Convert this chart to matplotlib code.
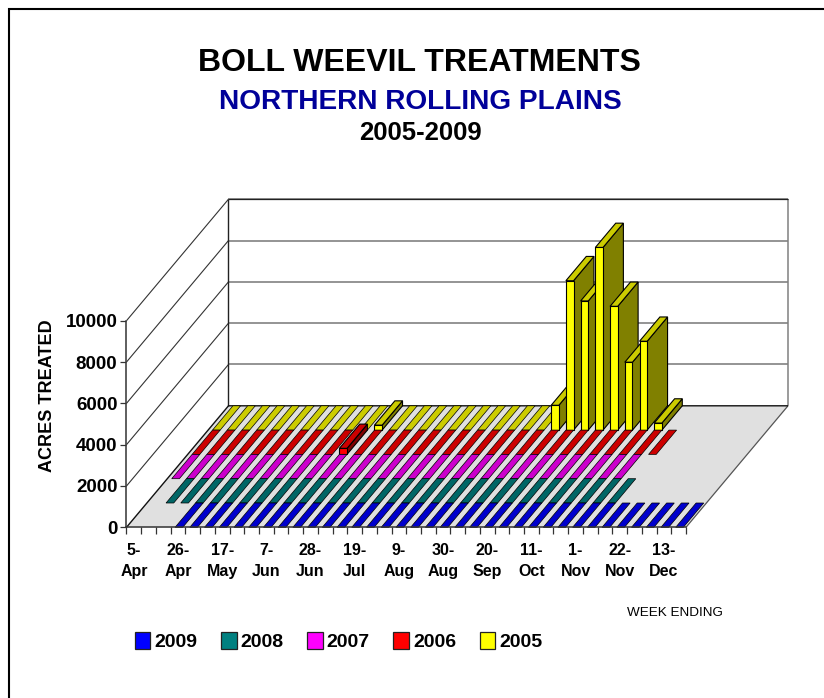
'''
Boll weevil treatments chart, drawn as an oblique 3-D column chart on plain 2-D axes.
'''

import matplotlib
matplotlib.use('Agg')
import matplotlib.pyplot as plt
from matplotlib.lines import Line2D
from matplotlib.patches import Patch, Polygon

W, H = 824, 698

week_labels = ['5-\nApr', '', '', '26-\nApr', '', '', '17-\nMay', '', '', '7-\nJun',
               '', '', '28-\nJun', '', '', '19-\nJul', '', '', '9-\nAug', '',
               '', '30-\nAug', '', '', '20-\nSep', '', '', '11-\nOct', '', '',
               '1-\nNov', '', '', '22-\nNov', '', '', '13-\nDec', '']
years = ['2005', '2006', '2007', '2008', '2009']  # back row first

acres_2009 = [None, None, None, 0, 0, 0, 0, 0, 0, 0,
              0, 0, 0, 0, 0, 0, 0, 0, 0, 0,
              0, 0, 0, 0, 0, 0, 0, 0, 0, 0,
              0, 0, 0, 0, 0, 0, 0, 0]
acres_2008 = [None, 0, 0, 0, 0, 0, 0, 0, 0, 0,
              0, 0, 0, 0, 0, 0, 0, 0, 0, 0,
              0, 0, 0, 0, 0, 0, 0, 0, 0, 0,
              0, 0, None, None, None, None, None, None]
acres_2007 = [0, 0, 0, 0, 0, 0, 0, 0, 0, 0,
              0, 0, 0, 0, 0, 0, 0, 0, 0, 0,
              0, 0, 0, 0, 0, 0, 0, 0, 0, 0,
              0, None, None, None, None, None, None, None]
acres_2006 = [0, 0, 0, 0, 0, 0, 0, 0, 0, 0,
              290, 0, 0, 0, 0, 0, 0, 0, 0, 0,
              0, 0, 0, 0, 0, 0, 0, 0, 0, 0,
              0, 0, None, None, None, None, None, None]
acres_2005 = [0, 0, 0, 0, 0, 0, 0, 0, 0, 0,
              0, 240, 0, 0, 0, 0, 0, 0, 0, 0,
              0, 0, 0, 1200, 7230, 6250, 8840, 5990, 3285, 4300,
              340, None, None, None, None, None, None, None]

# front, top, side colours
colors = {'2009': ('#0000ff', '#0000cc', '#000080'),
          '2008': ('#008080', '#006666', '#004040'),
          '2007': ('#ff00ff', '#cc00cc', '#800080'),
          '2006': ('#ff0000', '#cc0000', '#800000'),
          '2005': ('#ffff00', '#cccc00', '#808000')}
series = {'2005': acres_2005, '2006': acres_2006, '2007': acres_2007,
          '2008': acres_2008, '2009': acres_2009}

plt.rcParams['font.family'] = ['Liberation Sans', 'DejaVu Sans']

n_weeks = len(week_labels)
n_rows = len(years)
left_px, right_px, base_px, top_px = 126.5, 686.0, 527.3, 320.7

fig = plt.figure(figsize=(W / 100, H / 100), dpi=100)
ax = fig.add_axes([left_px / W, (H - base_px) / H,
                   (right_px - left_px) / W, (base_px - top_px) / H])
ax.set_xlim(0, n_weeks)
ax.set_ylim(0, 10000)
ax.patch.set_visible(False)

# depth of one row in data units
week_px = (right_px - left_px) / n_weeks
value_px = (base_px - top_px) / 10000.0
row_dx = 102.0 / n_rows / week_px
row_dy = 121.5 / n_rows / value_px


def proj(week, row, value):
    ''' data position -> oblique position, row counted from the front plane '''
    return (week + row * row_dx, value + row * row_dy)


def face(pts, color, z, ec='black', lw=0.8):
    ax.add_patch(Polygon([proj(*p) for p in pts], closed=True, fc=color, ec=ec,
                         lw=lw, zorder=z, clip_on=False, joinstyle='miter'))


def line(pts, color, lw, z=2):
    x, y = zip(*[proj(*p) for p in pts])
    ax.plot(x, y, color=color, lw=lw, zorder=z, clip_on=False,
            solid_capstyle='butt')


# floor
face([(0, 0, 0), (n_weeks, 0, 0), (n_weeks, n_rows, 0), (0, n_rows, 0)],
     '#e0e0e0', 1, ec='none')
line([(n_weeks, 0, 0), (n_weeks, n_rows, 0)], '#555555', 0.9)
line([(0, 0, 0), (0, n_rows, 0), (n_weeks, n_rows, 0)], '#111111', 1.0, 3)

# walls
for v in range(2000, 10001, 2000):
    line([(0, 0, v), (0, n_rows, v)], '#333333', 0.8)
    line([(0, n_rows, v), (n_weeks, n_rows, v)], '#777777', 1.1)
line([(0, n_rows, 0), (0, n_rows, 10000)], '#222222', 1.0)
line([(n_weeks, n_rows, 0), (n_weeks, n_rows, 10000)], '#808080', 1.1)
line([(0, n_rows, 10000), (n_weeks, n_rows, 10000)], '#222222', 0.9)

# columns, back row first and left to right
bar_off, bar_w = 0.3, 0.52
z = 4
for i, year in enumerate(years):
    row = n_rows - 1 - i
    front, top, side = colors[year]
    for week, val in enumerate(series[year]):
        if val is None:
            continue
        x0, x1 = week + bar_off, week + bar_off + bar_w
        if val > 0:
            face([(x1, row, 0), (x1, row + 1, 0), (x1, row + 1, val), (x1, row, val)], side, z)
            face([(x0, row, val), (x1, row, val), (x1, row + 1, val), (x0, row + 1, val)], top, z)
            face([(x0, row, 0), (x1, row, 0), (x1, row, val), (x0, row, val)], front, z)
        else:
            # nothing treated, only a flat strip on the floor
            face([(x0, row, 0), (x1, row, 0), (x1, row + 1, 0), (x0, row + 1, 0)], top, z, lw=0.5)
        z += 1

# axes
for s in ['top', 'right']:
    ax.spines[s].set_visible(False)
for s in ['left', 'bottom']:
    ax.spines[s].set_linewidth(1.1)
    ax.spines[s].set_color('#333333')
    ax.spines[s].set_zorder(z + 1)
ax.set_yticks(range(0, 10001, 2000))
ax.tick_params(axis='y', labelsize=13.5, length=4, width=0.9, pad=2.5, color='#333333')
for t in ax.get_yticklabels():
    t.set_fontweight('bold')
ax.set_xticks(range(0, n_weeks + 1), minor=True)
ax.tick_params(axis='x', which='minor', length=5, width=0.9, color='#333333')
ax.set_xticks([w + 0.5 for w in range(n_weeks)])
ax.set_xticklabels(week_labels, fontsize=11.5, fontweight='bold', linespacing=1.5)
ax.tick_params(axis='x', which='major', length=0, pad=11)

# titles
fig.text(419 / W, 1 - 70.7 / H, 'BOLL WEEVIL TREATMENTS', fontsize=23, fontweight='bold',
         ha='center', va='baseline')
fig.text(420 / W, 1 - 109 / H, 'NORTHERN ROLLING PLAINS', fontsize=20.2, fontweight='bold',
         color='#000099', ha='center', va='baseline')
fig.text(420 / W, 1 - 140 / H, '2005-2009', fontsize=18.5, fontweight='bold',
         ha='center', va='baseline')
fig.text(48 / W, 1 - 396 / H, 'ACRES TREATED', fontsize=13, fontweight='bold',
         rotation=90, ha='center', va='center')
fig.text(627 / W, 1 - 616 / H, 'WEEK ENDING', fontsize=9.7, ha='left', va='baseline')

# legend
handles = [Patch(fc=colors[y][0], ec='#222222', lw=0.9) for y in reversed(years)]
fig.legend(handles, list(reversed(years)), ncol=5, frameon=False, loc='center left',
           bbox_to_anchor=(134.5 / W, 1 - 641.5 / H), borderpad=0, borderaxespad=0,
           prop={'size': 14, 'weight': 'bold'}, handlelength=0.82, handleheight=0.95,
           handletextpad=0.2, columnspacing=1.2)

# outer frame, runs off the right and the bottom of the picture
fig.add_artist(Line2D([9 / W, 9 / W, 1], [0, 1 - 9 / H, 1 - 9 / H], color='black', lw=1.5,
                      transform=fig.transFigure, solid_joinstyle='miter'))

fig.savefig('out.png', dpi=100)
